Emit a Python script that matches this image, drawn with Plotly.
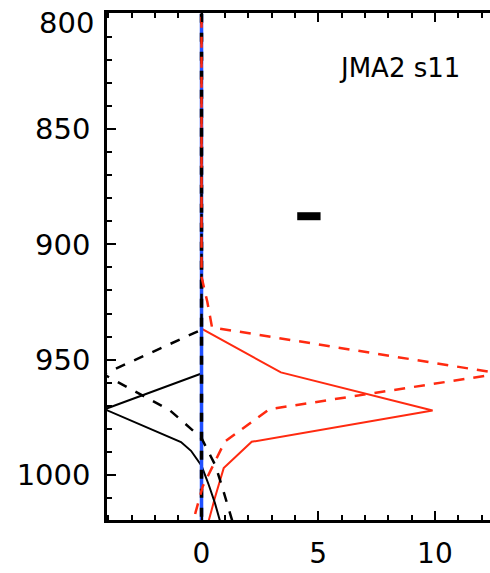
import plotly.graph_objects as go

# ---- data ----
p_red_solid = [800, 936.5, 955.5, 972, 985.6, 997, 1010, 1022]
x_red_solid = [0, 0, 3.4, 9.9, 2.15, 0.95, 0.57, 0.25]

p_black_solid = [800, 956, 971.5, 985.7, 989.5, 996, 1004, 1012, 1022]
x_black_solid = [0, 0, -4.15, -0.88, -0.45, 0.0, 0.3, 0.57, 0.85]

p_blue = [800, 1022]
x_blue = [0, 0]

p_zero = [800, 1022]
x_zero = [0, 0]

p_black_dash = [800, 937, 956.3, 972, 984, 996, 1005, 1013, 1022]
x_black_dash = [0, 0, -4.2, -1.35, 0.0, 0.6, 0.88, 1.12, 1.38]

p_red_dash = [800, 914, 925, 936, 956, 971.5, 985.5, 996, 1005, 1016, 1022]
x_red_dash = [0, 0, 0.25, 0.45, 12.8, 2.9, 1.0, 0.5, 0.05, -0.25, -0.4]

bar_x = [4.1, 5.1]
bar_p = [887.8, 887.8]

x_tickvals = [0, 5, 10]
y_tickvals = [800, 850, 900, 950, 1000]
y_ticktext = ["", "850", "900", "950", "1000"]
top_label = "800"
title_text = "JMA2 s11"

RED = "#ff2a10"
BLUE = "#2050ff"

fig = go.Figure()
fig.add_trace(go.Scatter(x=x_red_solid, y=p_red_solid, mode="lines",
                         line=dict(color=RED, width=2)))
fig.add_trace(go.Scatter(x=x_black_solid, y=p_black_solid, mode="lines",
                         line=dict(color="black", width=2)))
fig.add_trace(go.Scatter(x=x_blue, y=p_blue, mode="lines",
                         line=dict(color=BLUE, width=3.5)))
fig.add_trace(go.Scatter(x=x_zero, y=p_zero, mode="lines",
                         line=dict(color="black", width=3.5, dash="9px,10px")))
fig.add_trace(go.Scatter(x=x_black_dash, y=p_black_dash, mode="lines",
                         line=dict(color="black", width=2.5, dash="10px,10px")))
fig.add_trace(go.Scatter(x=x_red_dash, y=p_red_dash, mode="lines",
                         line=dict(color=RED, width=2.5, dash="0px,3px,11px,6px")))
fig.add_trace(go.Scatter(x=bar_x, y=bar_p, mode="lines",
                         line=dict(color="black", width=8)))

tickfont = dict(family="DejaVu Sans", size=29, color="black")
xtickfont = dict(family="DejaVu Sans", size=28, color="black")

fig.update_layout(
    width=490, height=573,
    margin=dict(l=107, r=0, t=13, b=53, autoexpand=False),
    paper_bgcolor="white", plot_bgcolor="white",
    showlegend=False,
    xaxis=dict(range=[-4.05, 12.36], tickvals=x_tickvals, ticks="inside",
               ticklen=9, tickwidth=2, tickcolor="black",
               showline=True, linecolor="black", linewidth=2.5, mirror="ticks",
               showgrid=False, zeroline=False, tickfont=xtickfont,
               ticklabelstandoff=7, automargin=False,
               minor=dict(dtick=1, tick0=0, ticks="inside", ticklen=5,
                          tickwidth=2, tickcolor="black", showgrid=False)),
    yaxis=dict(range=[1019.5, 799.7], tickvals=y_tickvals, ticktext=y_ticktext,
               ticks="inside",
               ticklen=9, tickwidth=2, tickcolor="black",
               showline=True, linecolor="black", linewidth=2.5, mirror=False,
               showgrid=False, zeroline=False, tickfont=tickfont,
               ticklabelstandoff=8, automargin=False,
               minor=dict(dtick=10, tick0=800, ticks="inside", ticklen=5,
                          tickwidth=2, tickcolor="black", showgrid=False)),
    annotations=[
        dict(text=title_text, xref="paper", yref="paper",
             x=0.765, y=0.8915, xanchor="center", yanchor="middle",
             showarrow=False,
             font=dict(family="DejaVu Sans", size=26, color="black")),
        dict(text=top_label, xref="paper", yref="paper",
             x=-0.03, y=0.98, xanchor="right", yanchor="middle",
             showarrow=False, font=tickfont),
    ],
)

fig.write_html("out.html", config={"displayModeBar": False},
               post_script="document.body.style.margin='0';")
